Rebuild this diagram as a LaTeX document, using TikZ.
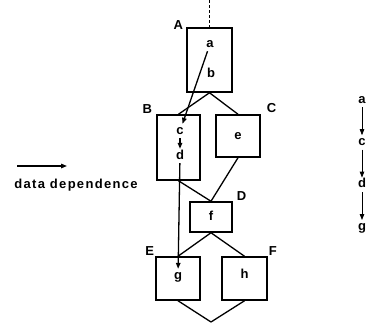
\documentclass[tikz,border=0pt]{standalone}
\usepackage{fontspec}
\setmainfont{Liberation Sans}
\usetikzlibrary{arrows.meta,positioning}

\begin{document}
\begin{tikzpicture}[x=1pt,y=-1pt,
  node distance=28pt,
  blk/.style={draw,line width=1.5pt,inner sep=0pt},
  stm/.style={font=\fontsize{13}{15}\selectfont\bfseries,inner sep=1pt,text height=9pt,text depth=3pt},
  lbl/.style={font=\fontsize{13}{15}\selectfont\bfseries,inner sep=1pt},
  cf/.style={line width=1.3pt},
  dep/.style={line width=1.3pt,-{Triangle[length=6pt,width=4.5pt]}}
]
\useasboundingbox (0,0) rectangle (370,322);
% basic blocks
\node[blk,minimum width=45pt,minimum height=64pt] (A) at (209.5,60) {};
\node[blk,minimum width=43pt,minimum height=65pt] (B) at (178.5,147.5) {};
\node[blk,minimum width=44pt,minimum height=42pt] (C) at (238,136) {};
\node[blk,minimum width=42pt,minimum height=30pt] (D) at (211,217) {};
\node[blk,minimum width=44pt,minimum height=43pt] (E) at (178,278.5) {};
\node[blk,minimum width=45pt,minimum height=43pt] (F) at (244.5,278.5) {};
\node[lbl,anchor=south east,xshift=-2pt,yshift=-3pt] at (A.north west) {A};
\node[lbl,anchor=south east,xshift=-3pt] at (B.north west) {B};
\node[lbl,anchor=south west,xshift=5pt] at (C.north east) {C};
\node[lbl,anchor=south west,xshift=3pt] at (D.north east) {D};
\node[lbl,anchor=south east] at (E.north west) {E};
\node[lbl,anchor=south west] at (F.north east) {F};
% statements
\node[stm] (a) at (210,44) {a};
\node[stm] (b) at (211,74) {b};
\node[stm] (c) at (180,131) {c};
\node[stm] (d) at (180,156) {d};
\node[stm] (e) at (238,136) {e};
\node[stm] (f) at (211,217) {f};
\node[stm] (g) at (178,276) {g};
\node[stm] (h) at (244.5,275) {h};
% control flow
\coordinate (top) at (209.5,0);
\coordinate (bot) at (211,322);
\draw[line width=0.6pt,densely dashed] (top) -- (A.north);
\draw[cf] (A.south) -- (B.north); \draw[cf] (A.south) -- (C.north);
\draw[cf] (B.south) -- (D.north); \draw[cf] (C.south) -- (D.north);
\draw[cf] (D.south) -- (E.north); \draw[cf] (D.south) -- (F.north);
\draw[cf] (E.south) -- (bot); \draw[cf] (F.south) -- (bot);
% data dependences
\draw[dep] (a) -- (c); \draw[dep] (c) -- (d); \draw[dep] (d) -- (g);
% legend
\node[stm] (dd) at (76,185) {\addfontfeature{LetterSpace=10}data dependence};
\coordinate (l0) at (17,166); \coordinate (l1) at (67,166);
\draw[dep] (l0) -- (l1);
% chain
\node[stm] (ra) at (362,100) {a};
\node[stm,below=of ra] (rc) {c};
\node[stm,below=of rc] (rd) {d};
\node[stm,below=of rd] (rg) {g};
\draw[dep,line width=0.8pt] (ra) -- (rc); \draw[dep,line width=0.8pt] (rc) -- (rd); \draw[dep,line width=0.8pt] (rd) -- (rg);
\end{tikzpicture}
\end{document}
